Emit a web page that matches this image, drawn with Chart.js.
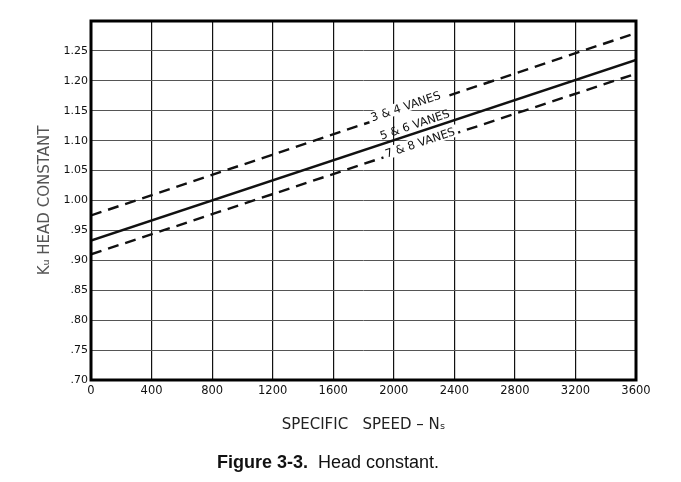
<!DOCTYPE html>
<html>
<head>
<meta charset="utf-8">
<script src="https://cdn.jsdelivr.net/npm/chart.js@4.4.1/dist/chart.umd.min.js"></script>
<style>
  body { margin: 0; background: #fff; }
  #wrap { position: relative; width: 681px; height: 482px; }
  #caption { position: absolute; left: 217px; top: 452px; font-family: "Liberation Sans", Arial, sans-serif; font-size: 18px; color: #111; white-space: pre; }
</style>
</head>
<body>
<div id="wrap">
  <canvas id="canvas" width="681" height="482"></canvas>
  <div id="caption"><b>Figure 3-3.</b>  Head constant.</div>
</div>
<script>
// specific speed at the two ends of each line
var speeds = [0, 3600];
var vanes34 = [0.975, 1.28];
var vanes56 = [0.933, 1.235];
var vanes78 = [0.91, 1.212];
var seriesNames = ['3 & 4 VANES', '5 & 6 VANES', '7 & 8 VANES'];

function pts(vals) {
    return speeds.map(function(s, i) { return {x: s, y: vals[i]}; });
}

// where the line labels sit (speed value along the line, offset in head constant)
var lineLabels = [
    {ds: 0, at: 2080, dy: 0.005, gap: true},
    {ds: 1, at: 2140, dy: 0.013, gap: false},
    {ds: 2, at: 2175, dy: 0.003, gap: true}
];

var labelPlugin = {
    id: 'lineLabels',
    afterDatasetsDraw: function(chart) {
        var ctx = chart.ctx, xs = chart.scales.x, ys = chart.scales.y;
        ctx.save();
        ctx.font = '11.5px "DejaVu Sans"';
        ctx.textAlign = 'center';
        ctx.textBaseline = 'middle';
        lineLabels.forEach(function(l) {
            var d = chart.data.datasets[l.ds].data;
            var x0 = xs.getPixelForValue(d[0].x), y0 = ys.getPixelForValue(d[0].y);
            var x1 = xs.getPixelForValue(d[1].x), y1 = ys.getPixelForValue(d[1].y);
            var ang = Math.atan2(y1 - y0, x1 - x0);
            var v = d[0].y + (d[1].y - d[0].y) * (l.at - d[0].x) / (d[1].x - d[0].x);
            var px = xs.getPixelForValue(l.at), py = ys.getPixelForValue(v + l.dy);
            ctx.save();
            ctx.translate(px, py);
            ctx.rotate(ang);
            var w = ctx.measureText(seriesNames[l.ds]).width;
            if (l.gap) {
                ctx.fillStyle = '#fff';
                ctx.fillRect(-w / 2 - 3, -7, w + 6, 12);
            }
            ctx.fillStyle = '#111';
            ctx.fillText(seriesNames[l.ds], 0, 0);
            ctx.restore();
        });
        // frame
        var a = chart.chartArea;
        ctx.strokeStyle = '#000';
        ctx.lineWidth = 3;
        ctx.strokeRect(a.left, a.top, a.right - a.left, a.bottom - a.top);
        ctx.restore();
    }
};

var config = {
    type: 'line',
    data: {
        datasets: [{
            label: seriesNames[0],
            data: pts(vanes34),
            borderColor: '#111',
            borderWidth: 2.4,
            borderDash: [11, 7],
            pointRadius: 0,
            fill: false
        }, {
            label: seriesNames[1],
            data: pts(vanes56),
            borderColor: '#111',
            borderWidth: 2.4,
            pointRadius: 0,
            fill: false
        }, {
            label: seriesNames[2],
            data: pts(vanes78),
            borderColor: '#111',
            borderWidth: 2.4,
            borderDash: [11, 7],
            pointRadius: 0,
            fill: false
        }]
    },
    options: {
        responsive: false,
        animation: false,
        devicePixelRatio: 1,
        layout: { padding: { top: 21, right: 45, left: 0, bottom: 0 } },
        plugins: { legend: { display: false }, tooltip: { enabled: false } },
        scales: {
            x: {
                type: 'linear',
                min: 0,
                max: 3600,
                afterFit: function(s) { s.height = 102; },
                border: { display: false },
                grid: { color: '#111', lineWidth: 1.2, drawTicks: false },
                ticks: {
                    stepSize: 400,
                    padding: 4,
                    color: '#111',
                    font: { family: 'DejaVu Sans', size: 11.5 },
                    maxRotation: 0,
                    callback: function(v) { return String(v); }
                },
                title: {
                    display: true,
                    text: 'SPECIFIC   SPEED \u2013 N\u209B',
                    color: '#222',
                    font: { family: 'DejaVu Sans', size: 15 },
                    padding: { top: 0, bottom: 48 }
                }
            },
            y: {
                min: 0.70,
                max: 1.30,
                afterFit: function(s) { s.width = 91; },
                border: { display: false },
                grid: { color: '#555', lineWidth: 1, drawTicks: false },
                ticks: {
                    stepSize: 0.05,
                    padding: 3,
                    color: '#111',
                    font: { family: 'DejaVu Sans', size: 11 },
                    callback: function(v) {
                        if (v > 1.27) return '';
                        var t = v.toFixed(2);
                        return v < 1 ? t.slice(1) : t;
                    }
                },
                title: {
                    display: true,
                    text: 'K\u1D64 HEAD CONSTANT',
                    color: '#555',
                    font: { family: 'DejaVu Sans', size: 15 },
                    padding: { top: 36, bottom: 0 }
                }
            }
        }
    },
    plugins: [labelPlugin]
};

window.onload = function() {
    var ctx = document.getElementById('canvas').getContext('2d');
    window.myLine = new Chart(ctx, config);
};
</script>
</body>
</html>
